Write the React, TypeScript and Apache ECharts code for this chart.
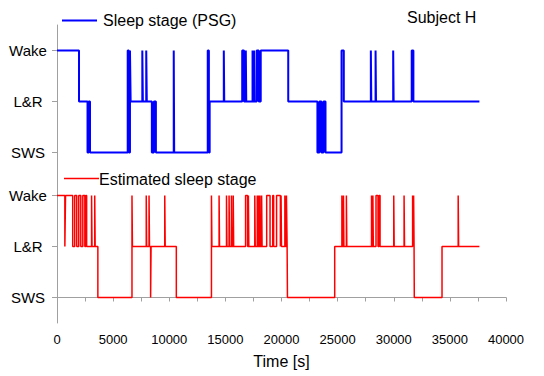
import React, { useEffect, useRef } from "react";
import * as echarts from "echarts";

const stageNames = ["SWS", "L&R", "Wake"];
const xTicks = [0, 5000, 10000, 15000, 20000, 25000, 30000, 35000, 40000];

// [time (s), stage index: 0 = SWS, 1 = L&R, 2 = Wake]
const psgSteps: [number, number][] = [
  [0, 2], [1960, 1], [2720, 0], [2820, 1], [2940, 0], [6300, 2], [6400, 0], [6500, 2], [6560, 1],
  [7600, 2], [7650, 1], [7950, 2], [8000, 1], [8450, 0], [8630, 1], [8810, 0],
  [10400, 2], [10440, 0], [13430, 2], [13530, 0], [13600, 1], [14860, 2], [14900, 1],
  [16500, 2], [16660, 1], [16820, 2], [16860, 1],
  [17420, 2], [17460, 1], [17560, 2], [17600, 1],
  [17790, 2], [17970, 1], [18150, 2],
  [20600, 1],
  [23200, 0], [23380, 1], [23560, 0], [23740, 1], [23920, 0],
  [25350, 2], [25550, 1],
  [27960, 2], [28000, 1], [28380, 2], [28420, 1], [29950, 2], [29990, 1],
  [31600, 2], [31750, 1], [37630, 1],
];

const estSteps: [number, number][] = [
  [0, 2], [700, 1], [760, 2], [1400, 1], [1580, 2], [1760, 1], [1940, 2], [2120, 1], [2300, 2], [2480, 1],
  [2560, 2], [2640, 1], [3080, 2], [3120, 1], [3360, 2], [3400, 1],
  [3640, 0], [6680, 2], [6720, 1], [7950, 2], [7990, 1], [8200, 2], [8240, 1], [8340, 0], [8380, 1],
  [9600, 2], [9640, 1], [10630, 0], [13760, 2], [13800, 1], [14440, 2], [14480, 1], [15100, 2], [15140, 1],
  [15330, 2], [15370, 1], [15540, 2], [15580, 1], [15700, 2], [15740, 1], [16800, 2], [16980, 1],
  [17050, 2], [17090, 1], [17620, 2], [17660, 1], [17840, 2], [17880, 1],
  [17960, 2], [18000, 1], [18080, 2], [18120, 1], [18230, 2], [18270, 1], [18680, 2], [18980, 1],
  [19220, 2], [19300, 1], [19560, 2], [19900, 1], [19960, 2], [20000, 1], [20300, 2], [20360, 1],
  [20440, 2], [20500, 1], [20530, 0], [24740, 1], [25380, 2], [25420, 1], [25520, 2], [25560, 1],
  [25780, 2], [25820, 1], [28020, 2], [28060, 1], [28140, 2], [28180, 1], [28420, 2], [28600, 1],
  [28700, 2], [28780, 1], [30000, 2], [30040, 1],
  [30920, 2], [30960, 1], [31680, 2], [31720, 1], [31770, 2], [31810, 1], [31830, 0], [34300, 1],
  [35740, 2], [35780, 1], [37630, 1],
];

const FONT = "'Liberation Sans', Arial, sans-serif";
const AXIS_COLOR = "#a0a0a0";

function yAxisFor(gridIndex: number) {
  return {
    gridIndex,
    type: "value",
    min: -0.5,
    max: 2.5,
    splitLine: { show: false },
    axisLine: { show: true, lineStyle: { color: AXIS_COLOR, width: 1 } },
    axisTick: { show: true, length: 5, customValues: [0, 1, 2], lineStyle: { color: AXIS_COLOR } },
    axisLabel: {
      customValues: [0, 1, 2],
      formatter: (v: number) => stageNames[Math.round(v)] ?? "",
      align: "center",
      margin: 29,
      fontSize: 15,
      fontFamily: FONT,
      color: "#000",
    },
  };
}

export default function App() {
  const ref = useRef<HTMLDivElement>(null);
  useEffect(() => {
    if (!ref.current) return;
    const chart = echarts.init(ref.current, undefined, { renderer: "svg" });
    chart.setOption({
      animation: false,
      grid: [
        { left: 57, right: 38, top: 25, height: 153 },
        { left: 57, right: 38, top: 170, height: 153 },
      ],
      xAxis: [
        { gridIndex: 0, type: "value", min: 0, max: 40000, show: false },
        {
          gridIndex: 1,
          type: "value",
          min: 0,
          max: 40000,
          interval: 5000,
          splitLine: { show: false },
          axisLine: { show: true, lineStyle: { color: AXIS_COLOR } },
          axisTick: { show: true, length: 4, lineStyle: { color: AXIS_COLOR } },
          minorTick: { show: true, splitNumber: 2, length: 4, lineStyle: { color: AXIS_COLOR } },
          axisLabel: {
            customValues: xTicks,
            formatter: (v: number) => String(v),
            margin: 10,
            fontSize: 13,
            fontFamily: FONT,
            color: "#000",
          },
          name: "Time [s]",
          nameLocation: "middle",
          nameGap: 30,
          nameTextStyle: { fontSize: 16, fontFamily: FONT, color: "#000" },
        },
      ],
      yAxis: [yAxisFor(0), yAxisFor(1)],
      series: [
        {
          name: "Sleep stage (PSG)",
          type: "line",
          xAxisIndex: 0,
          yAxisIndex: 0,
          step: "end",
          symbol: "none",
          data: psgSteps,
          lineStyle: { color: "#0000ff", width: 2 },
        },
        {
          name: "Estimated sleep stage",
          type: "line",
          xAxisIndex: 1,
          yAxisIndex: 1,
          step: "end",
          symbol: "none",
          data: estSteps,
          lineStyle: { color: "#ff0000", width: 1.5 },
        },
      ],
      graphic: [
        { type: "line", shape: { x1: 62, y1: 20.5, x2: 97, y2: 20.5 }, style: { stroke: "#0000ff", lineWidth: 2 } },
        {
          type: "text",
          x: 103,
          y: 20.5,
          style: { text: "Sleep stage (PSG)", fontSize: 16, fontFamily: FONT, fill: "#000", verticalAlign: "middle" },
        },
        { type: "line", shape: { x1: 64, y1: 178.5, x2: 99, y2: 178.5 }, style: { stroke: "#ff0000", lineWidth: 1.5 } },
        {
          type: "text",
          x: 99,
          y: 179,
          style: { text: "Estimated sleep stage", fontSize: 16, fontFamily: FONT, fill: "#000", verticalAlign: "middle" },
        },
        {
          type: "text",
          x: 407,
          y: 17,
          style: { text: "Subject H", fontSize: 16, fontFamily: FONT, fill: "#000", verticalAlign: "middle" },
        },
      ],
    });
    return () => chart.dispose();
  }, []);
  return (
    <div
      ref={ref}
      style={{ position: "fixed", left: 0, top: 0, width: 544, height: 376, background: "#fff" }}
    />
  );
}
